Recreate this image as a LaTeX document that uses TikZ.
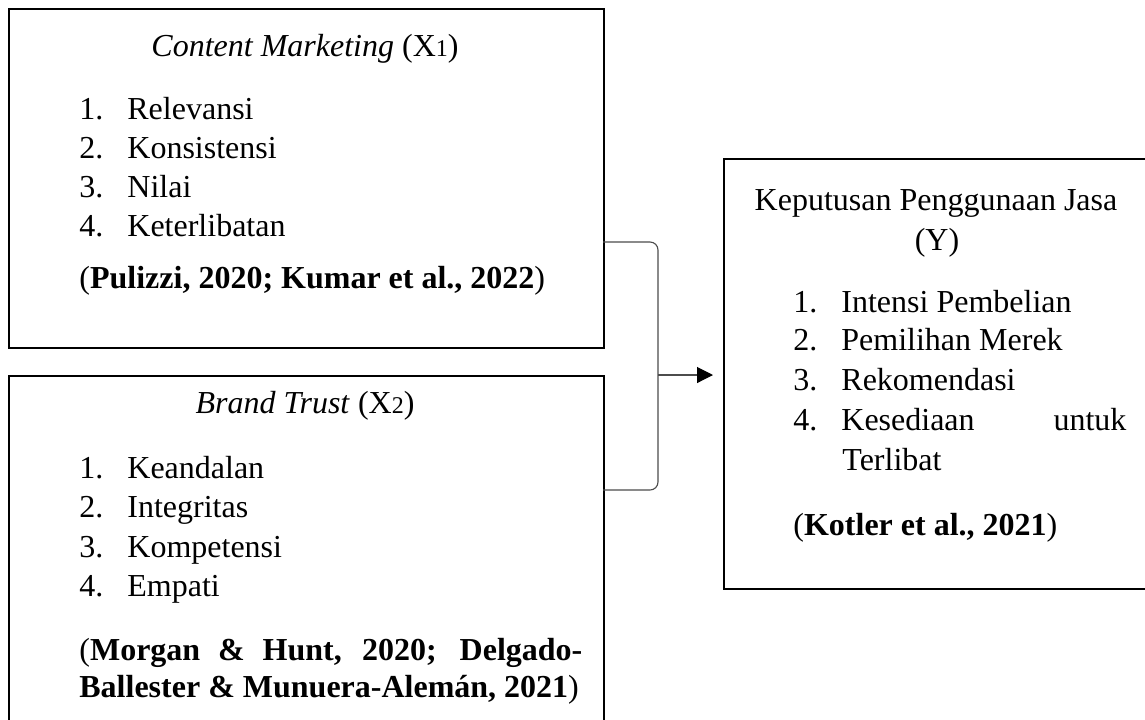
\documentclass[tikz,border=0pt]{standalone}
\usepackage{fontspec}
\setmainfont{Liberation Serif}
\usetikzlibrary{arrows.meta}
\newcommand{\numitem}[2]{\makebox[24pt][l]{#1}#2}
\newcommand{\varsub}[1]{{\fontsize{12}{12}\selectfont #1}}

\begin{document}
\begin{tikzpicture}[x=0.5pt,y=-0.5pt,
    font=\fontsize{16}{19.5}\selectfont,
    box/.style={draw,line width=1pt,inner sep=0pt,anchor=north west},
    txt/.style={inner sep=0pt,anchor=base west},
    ttl/.style={inner sep=0pt,anchor=base},
    link/.style={draw=black!70,line width=0.55pt}]
  \useasboundingbox (0,0) rectangle (1145,719);
  \path
  (603,242) coordinate (T)
  (603,490) coordinate (U)
  (658,242) coordinate (Ctop)
  (658,490) coordinate (Cbot)
  (658,375) coordinate (M);

  \node[box,minimum width=297.5pt,minimum height=169.5pt] (box1) at (8,8) {};
  \node[box,minimum width=297.5pt,minimum height=177.5pt] (box2) at (8,375) {};
  \node[box,minimum width=216pt,minimum height=215pt] (box3) at (723,158) {};

  % X1
  \node[ttl] (t1) at (305,56) {\textit{Content Marketing} (X\varsub{1})};
  \node[txt] (a1) at (79,119) {\numitem{1.}{Relevansi}};
  \node[txt] (a2) at (79,158) {\numitem{2.}{Konsistensi}};
  \node[txt] (a3) at (79,197) {\numitem{3.}{Nilai}};
  \node[txt] (a4) at (79,236) {\numitem{4.}{Keterlibatan}};
  \node[txt] (c1) at (79,288) {(\textbf{Pulizzi, 2020; Kumar et al., 2022})};

  % X2
  \node[ttl] (t2) at (305,413) {\textit{Brand Trust} (X\varsub{2})};
  \node[txt] (b1) at (79,478) {\numitem{1.}{Keandalan}};
  \node[txt] (b2) at (79,517) {\numitem{2.}{Integritas}};
  \node[txt] (b3) at (79,557) {\numitem{3.}{Kompetensi}};
  \node[txt] (b4) at (79,596) {\numitem{4.}{Empati}};
  \node[txt] (c2) at (79,660) {\makebox[251.5pt][s]{(\textbf{Morgan \& Hunt, 2020; Delgado-}}};
  \node[txt] (c2b) at (79,697) {\textbf{Ballester \& Munuera-Alemán, 2021})};

  % Y
  \node[ttl] (t3) at (936,210) {Keputusan Penggunaan Jasa};
  \node[ttl] (t3y) at (937,250) {(Y)};
  \node[txt] (y1) at (793,312) {\numitem{1.}{Intensi Pembelian}};
  \node[txt] (y2) at (793,350) {\numitem{2.}{Pemilihan Merek}};
  \node[txt] (y3) at (793,390) {\numitem{3.}{Rekomendasi}};
  \node[txt] (y4) at (793,430) {\numitem{4.}{\makebox[142.5pt][l]{Kesediaan\hfill untuk}}};
  \node[txt] (y4b) at (842,470) {Terlibat};
  \node[txt] (c3) at (793,535) {(\textbf{Kotler et al., 2021})};

  \draw[link,rounded corners=4pt] (T) -- (Ctop) -- (Cbot) -- (U);
  \draw[link,-{Triangle[length=8pt,width=8pt,color=black]}] (M) -- ([xshift=-5pt]box3.west |- M);
\end{tikzpicture}
\end{document}
